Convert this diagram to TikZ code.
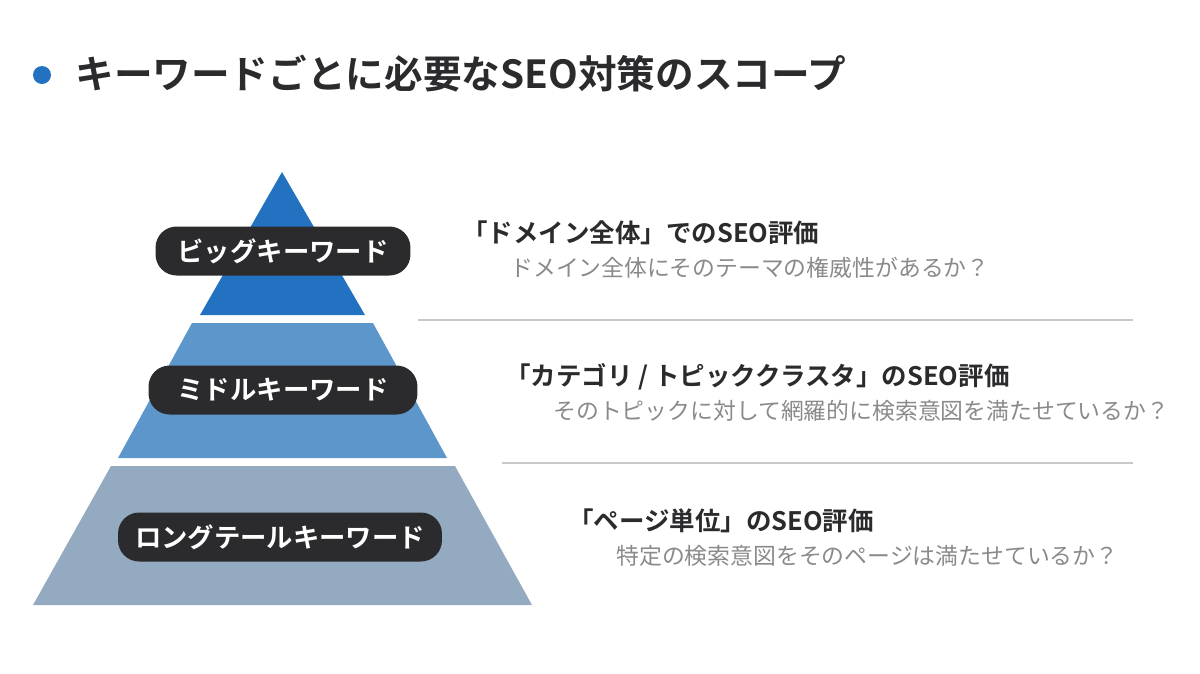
\documentclass[tikz,border=0pt]{standalone}
\usepackage{fontspec}
\setmainfont{Noto Sans CJK JP}
\newfontfamily\jpbold{Noto Sans CJK JP Bold}
\definecolor{topblue}{HTML}{2272C1}
\definecolor{midblue}{HTML}{5D96CA}
\definecolor{lowblue}{HTML}{94AAC0}
\definecolor{pill}{HTML}{2B2B2E}
\definecolor{subgray}{HTML}{8A8A8A}
\definecolor{rule}{HTML}{C8C8C8}
\tikzset{
  kwpill/.style={fill=pill,rounded corners=12pt,text=white,font=\jpbold\fontsize{15}{18}\selectfont,
    minimum height=0.98cm,inner xsep=0pt},
  headtext/.style={anchor=west,font=\jpbold\fontsize{14.5}{17}\selectfont,text=pill,inner sep=0pt},
  subtext/.style={anchor=west,font=\fontsize{13}{16}\selectfont,text=subgray,inner sep=0pt},
}
\begin{document}
\begin{tikzpicture}[x=0.02cm,y=-0.02cm]
\useasboundingbox (0,0) rectangle (1200,673);
% title
\fill[topblue] (42,75) circle (9);
\node[anchor=west,inner sep=0pt,font=\jpbold\fontsize{22}{26}\selectfont,text=pill] (title) at (75,74) {キーワードごとに必要なSEO対策のスコープ};
% pyramid
\fill[topblue] (282,172) -- (365,315) -- (200,315) -- cycle;
\fill[midblue] (192,323) -- (373,323) -- (447,458) -- (118,458) -- cycle;
\fill[lowblue] (111,466) -- (455,466) -- (532,605) -- (33,605) -- cycle;
% labels
\node[kwpill,minimum width=5.1cm] (big) at (283,251) {ビッグキーワード};
\node[kwpill,minimum width=5.38cm] (mid) at (283,390) {ミドルキーワード};
\node[kwpill,minimum width=6.48cm] (long) at (280,537) {ロングテールキーワード};
% right texts
\node[headtext] (h1) at (462,233) {「ドメイン全体」でのSEO評価};
\node[subtext] (s1) at (510,268) {ドメイン全体にそのテーマの権威性があるか？};
\node[headtext] (h2) at (505,377) {「カテゴリ / トピッククラスタ」のSEO評価};
\node[subtext] (s2) at (553,411) {そのトピックに対して網羅的に検索意図を満たせているか？};
\node[headtext] (h3) at (568,521) {「ページ単位」のSEO評価};
\node[subtext] (s3) at (616,556) {特定の検索意図をそのページは満たせているか？};
% rules
\draw[rule,line width=1.2pt] (418,320) -- (1133,320);
\draw[rule,line width=1.2pt] (502,463) -- (1133,463);
\end{tikzpicture}
\end{document}
